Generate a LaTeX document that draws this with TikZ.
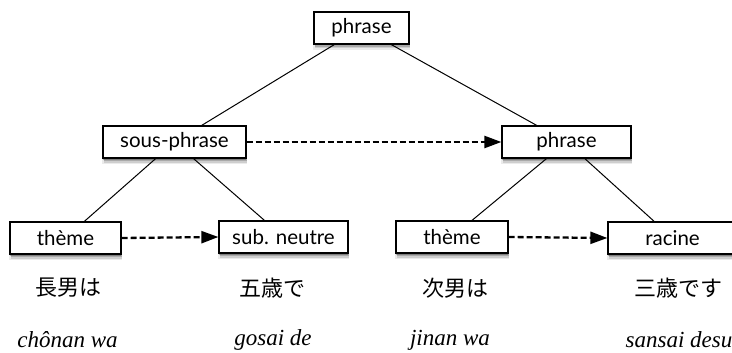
\documentclass[tikz,border=0pt]{standalone}
\usepackage{fontspec}
\setmainfont{Liberation Serif}
\newfontfamily\boxfont{Lato}
\newfontfamily\cjk{Noto Sans CJK JP}
\usetikzlibrary{arrows.meta,shadows}
\tikzset{
  box/.style={draw=black, line width=1.2pt, fill=white, minimum height=32pt, inner sep=0pt,
    font=\boxfont\fontsize{20.5}{22}\selectfont,
    general shadow={fill=black, opacity=0.08, shadow xshift=0pt, shadow yshift=-6pt, shadow scale=1.02},
    general shadow={fill=black, opacity=0.12, shadow xshift=0.5pt, shadow yshift=-4.5pt},
    general shadow={fill=black, opacity=0.18, shadow xshift=0.5pt, shadow yshift=-3pt},
    general shadow={fill=black, opacity=0.25, shadow xshift=0pt, shadow yshift=-1.5pt}},
  link/.style={draw=black, line width=1pt},
  dasharrow/.style={draw=black, line width=2.3pt, dash pattern=on 6pt off 3pt,
    -{Triangle[length=17pt,width=12pt]}},
  jp/.style={font=\cjk\fontsize{22}{24}\selectfont, inner sep=0pt},
  rom/.style={font=\itshape\fontsize{23}{25}\selectfont, inner sep=0pt}
}
\begin{document}
\begin{tikzpicture}[x=1pt,y=-1pt]
\useasboundingbox (0,0) rectangle (732,353);
\clip (0,0) rectangle (732,353);
\node[box, minimum width=95pt] (root) at (361.5,28) {phrase};
\node[box, minimum width=143pt] (sp) at (174.5,142) {sous-phrase};
\node[box, minimum width=129pt] (ph) at (566.5,142) {phrase};
\node[box, minimum width=111pt] (t1) at (65.5,238) {thème};
\node[box, minimum width=129pt] (sn) at (283.5,237) {sub. neutre};
\node[box, minimum width=112pt] (t2) at (452,237) {thème};
\node[box, minimum width=129pt] (rc) at (672.5,238) {racine};

\draw[link] (root) -- (sp);
\draw[link] (root) -- (ph);
\draw[link] (sp) -- (t1);
\draw[link] (sp) -- (sn);
\draw[link] (ph) -- (t2);
\draw[link] (ph) -- (rc);

\draw[dasharrow] (sp.east) -- (ph.west);
\draw[dasharrow] (t1.east) -- (sn.west);
\draw[dasharrow] (t2.east) -- (rc.west);

\node[jp] (j1) at (68,288) {長男は};
\node[jp] (j2) at (272,288) {五歳で};
\node[jp] (j3) at (455,288) {次男は};
\node[jp] (j4) at (678,288) {三歳です};

\node[rom] (r1) at (67.5,340) {chônan wa};
\node[rom] (r2) at (273,340) {gosai de};
\node[rom] (r3) at (450,340) {jinan wa};
\node[rom] (r4) at (679,340) {sansai desu};
\end{tikzpicture}
\end{document}
